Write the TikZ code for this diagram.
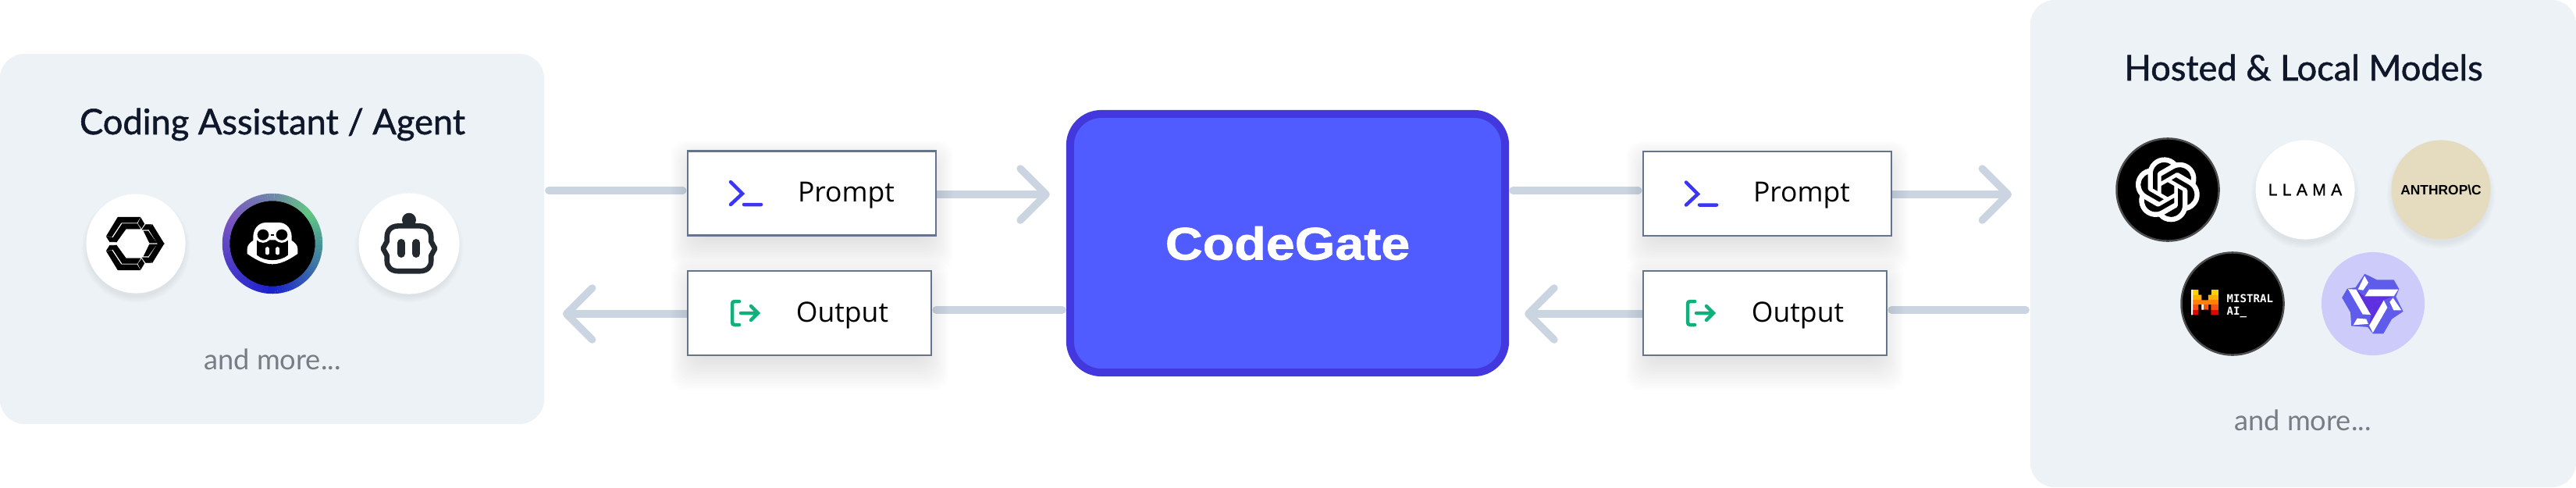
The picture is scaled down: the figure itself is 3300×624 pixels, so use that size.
\documentclass[tikz,border=0pt]{standalone}
\usepackage{fontspec}
\setmainfont{Lato}
\newfontfamily\titlefont[FakeBold=1.2]{Lato}
\newfontfamily\cardfont{Open Sans}
\newfontfamily\gatefont[FakeStretch=1.13,FakeBold=1.2]{Liberation Sans}
\newfontfamily\anthropicfont{Liberation Sans}
\newfontfamily\llamafont[LetterSpace=30,FakeBold=1]{Liberation Sans}
\newfontfamily\mistralfont{DejaVu Sans Mono}
\usetikzlibrary{arrows.meta,backgrounds,svg.path}

\definecolor{panelbg}{HTML}{EDF2F7}
\definecolor{wirecol}{HTML}{CBD5E1}
\definecolor{cardline}{HTML}{64748B}
\definecolor{gatefill}{HTML}{505CFF}
\definecolor{gateline}{HTML}{4338DE}
\definecolor{titlecol}{HTML}{0F172A}
\definecolor{morecol}{HTML}{787D85}
\definecolor{promptcol}{HTML}{3B35F5}
\definecolor{outputcol}{HTML}{10B07C}
\definecolor{robotcol}{HTML}{24292F}
\definecolor{sandcol}{HTML}{E5DBBF}
\definecolor{qwenbg}{HTML}{CCCBFA}
\definecolor{qwenmid}{HTML}{5F5CEC}
\definecolor{qwencore}{HTML}{5F30E0}
\definecolor{ringgreen}{HTML}{60C880}
\definecolor{ringslate}{HTML}{6F86A8}
\definecolor{ringpurple}{HTML}{7A55C0}
\definecolor{ringblue}{HTML}{1A20D0}
\definecolor{ringteal}{HTML}{3A70A8}

\tikzset{
	panel/.style={fill=panelbg,rounded corners=.32cm,inner sep=0pt},
	card/.style={draw=cardline,line width=.025cm,fill=white,minimum height=1.08cm,inner sep=0pt},
	promptcard/.style={card,minimum width=3.175cm},
	outputcard/.style={card,minimum width=3.115cm},
	cardtext/.style={anchor=base,inner sep=0pt,font=\cardfont\fontsize{10.1}{12}\selectfont},
	title/.style={anchor=base,inner sep=0pt,text=titlecol,font=\titlefont\fontsize{12.85}{15}\selectfont},
	more/.style={anchor=base,inner sep=0pt,text=morecol,font=\fontsize{10.3}{12}\selectfont},
	logo/.style={circle,inner sep=0pt,minimum size=1.27cm},
	wire/.style={draw=wirecol,line width=.095cm,line cap=round,shorten <=.05cm,shorten >=.05cm},
	wirehead/.style={draw=wirecol,line width=.095cm,line cap=round,-{Straight Barb[length=.33cm,width=.66cm,round]}},
	glyph/.style={x=.00333cm,y=-.00333cm}
}
\newcommand{\cardshadow}[4]{
	\foreach \i in {1,...,16}
		\fill[black,opacity=.0065,rounded corners=.2cm] ({#1+14-\i*2.2},{#2+20-\i*2}) rectangle ({#3-14+\i*2.2},{#4-4+\i*3});
}
\newcommand{\logoshadow}[2]{
	\foreach \i in {1,...,8}
		\fill[black,opacity=.008] (#1,#2+6) circle[radius=61+\i*1.1];
}

\begin{document}
\begin{tikzpicture}[x=.01cm,y=-.01cm]
	\useasboundingbox (0,0) rectangle (3300,624);

	\node[panel,minimum width=6.97cm,minimum height=4.74cm] (assistant) at (348.5,306) {};
	\node[panel,minimum width=6.99cm,minimum height=6.24cm] (models) at (2950.5,312) {};
	\node[title] (assistanttitle) at (349,172) {Coding Assistant / Agent};
	\node[title] (modelstitle) at (2951,103) {Hosted \& Local Models};
	\node[more] (assistantmore) at (349,473) {and more...};
	\node[more] (modelsmore) at (2950,551) {and more...};

	\node[draw=gateline,fill=gatefill,line width=.1cm,rounded corners=.4cm,minimum width=5.57cm,minimum height=3.31cm,inner sep=0pt,text=white,font=\gatefont\bfseries\fontsize{16.7}{20}\selectfont] (codegate) at (1649.5,311.5) {CodeGate};

	\cardshadow{880}{192}{1200}{303}
	\cardshadow{880}{346}{1194}{456}
	\cardshadow{2104}{193}{2424}{303}
	\cardshadow{2104}{346}{2418}{456}
	\node[promptcard] (promptl) at (1040,247.5) {};
	\node[outputcard] (outputl) at (1037,401) {};
	\node[promptcard] (promptr) at (2264,248) {};
	\node[outputcard] (outputr) at (2261,401) {};
	\node[cardtext] (promptltext) at (1084,258) {Prompt};
	\node[cardtext] (outputltext) at (1079,412) {Output};
	\node[cardtext] (promptrtext) at (2308,258) {Prompt};
	\node[cardtext] (outputrtext) at (2303,412) {Output};

	\foreach \n in {promptl,promptr}
		\draw[promptcol,line width=.045cm,line cap=round,shift={(\n.center)}] (-104,-14.5)--(-89,0.5)--(-104,14.5) (-87,14.5)--(-65,14.5);
	\foreach \n in {outputl,outputr}
		\draw[outputcol,line width=.045cm,line cap=round,shift={(\n.center)}] (-90,-15)[rounded corners=.03cm]--(-99,-15)--(-99,15)--(-90,15) [sharp corners](-88,0)--(-67,0) (-75,-9)--(-66,0)--(-75,9);

	\begin{scope}[on background layer]
		\coordinate (pal) at ([yshift=.035cm]promptl.west);
		\coordinate (pbl) at ([yshift=-.015cm]promptl.east);
		\coordinate (oal) at ([yshift=.04cm]outputl.east);
		\coordinate (obl) at ([yshift=-.01cm]outputl.west);
		\coordinate (par) at ([yshift=.04cm]promptr.west);
		\coordinate (pbr) at ([yshift=-.01cm]promptr.east);
		\coordinate (oar) at ([yshift=.04cm]outputr.east);
		\coordinate (obr) at ([yshift=-.01cm]outputr.west);
		\draw[wire] (assistant.east |- pal) -- (pal);
		\draw[wirehead,shorten >=.21cm] (pbl) -- (codegate.west |- pbl);
		\draw[wire] (codegate.west |- oal) -- (oal);
		\draw[wirehead,shorten >=.23cm] (obl) -- (assistant.east |- obl);
		\draw[wire] (codegate.east |- par) -- (par);
		\draw[wirehead,shorten >=.23cm] (pbr) -- (models.west |- pbr);
		\draw[wire] (models.west |- oar) -- (oar);
		\draw[wirehead,shorten >=.2cm] (obr) -- (codegate.east |- obr);
	\end{scope}

	% left logos
	\logoshadow{174}{312}
	\logoshadow{524}{312}
	\node[logo,fill=white] (continue) at (174,312) {};
	\node[logo,fill=black,minimum size=1.1cm] (copilot) at (349,312) {};
	\node[logo,fill=white,minimum size=1.29cm] (robot) at (524,312) {};

	\foreach \s in {1,-1} {
		\begin{scope}[shift={(continue.center)},glyph,yscale=\s]
			\filldraw[black,line width=.008cm] (-112,-30)--(-69,-101)--(16,-101)--(4,-81)--(-57,-81)--(-92,-28)--cycle
				(-49,-76)--(5,-76)--(17,-57)--(-37,-57)--cycle
				(19,-98)--(32,-76)--(22,-60)--(9,-78)--cycle
				(25,-54)--(38,-73)--(58,-73)--(46,-54)--cycle
				(63,-73)--(108,0)--(85,0)--(50,-55)--cycle
				(31,-48)--(47,-48)--(79,-3)--(53,-3)--cycle
				(-52,-76)--(-39,-56)--(-75,-6)--(-87,-23)--cycle
				(-112,-26)--(-92,-24)--(-80,-7)--(-100,-7)--cycle;
		\end{scope}
	}

	\foreach \from/\to/\ca/\cb in {-40/-90/ringgreen/ringslate,-90/-150/ringslate/ringpurple,-150/-270/ringpurple/ringblue,-270/-330/ringblue/ringteal,-330/-400/ringteal/ringgreen}
		\foreach \t in {0,...,19} {
			\pgfmathsetmacro{\p}{\t*5+2.5}
			\pgfmathsetmacro{\st}{\from+(\to-\from)*\t/20}
			\pgfmathsetmacro{\en}{\from+(\to-\from)*(\t+1.1)/20}
			\draw[line width=.095cm,\cb!\p!\ca] (copilot.center) ++(\st:59.5) arc[start angle=\st,end angle=\en,radius=59.5];
		}

	\begin{scope}[shift={(copilot.center)},glyph]
		\fill[white] (-97,39) -- (-97,20) .. controls (-97,5) and (-85,-5) .. (-74,-12) .. controls (-78,-55) and (-55,-81) .. (-25,-81) -- (25,-81) .. controls (55,-81) and (78,-55) .. (74,-12) .. controls (85,-5) and (97,5) .. (97,20) -- (97,39) .. controls (60,65) and (30,79) .. (0,79) .. controls (-30,79) and (-60,65) .. (-97,39) -- cycle;
		\fill[black] (-60,-14) -- (60,-14) -- (60,44) .. controls (30,70) and (-30,70) .. (-60,44) -- cycle;
		\draw[white,fill=black,line width=.03cm] (-36,-34) ellipse[x radius=27,y radius=26] (36,-34) ellipse[x radius=27,y radius=26];
		\fill[black] (-6,-37) rectangle (6,-31);
		\draw[white,line width=.05cm,line cap=round] (-20,20)--(-20,36) (20,20)--(20,36);
	\end{scope}

	\begin{scope}[shift={(robot.center)},glyph]
		\fill[robotcol] (0,-91) circle[radius=27];
		\draw[robotcol,line width=.066cm,line join=round] (-40,-68) -- (40,-68) .. controls (70,-68) and (85,-50) .. (85,-25) -- (85,-8) -- (100,19) -- (85,46) -- (85,65) .. controls (85,90) and (70,106) .. (40,106) -- (-40,106) .. controls (-70,106) and (-85,90) .. (-85,65) -- (-85,46) -- (-100,19) -- (-85,-8) -- (-85,-25) .. controls (-85,-50) and (-70,-68) .. (-40,-68) -- cycle;
		\draw[robotcol,line width=.1cm,line cap=round] (-30,-3)--(-30,39) (28,-3)--(28,39);
	\end{scope}

	% right logos
	\logoshadow{2953}{243}
	\logoshadow{3127}{243}
	\node[logo,fill=black,draw=black!70,line width=.025cm,minimum size=1.31cm] (openai) at (2777,243) {};
	\node[logo,fill=white,font=\llamafont\fontsize{6}{7}\selectfont] (llama) at (2953,243) {LLAMA};
	\node[logo,fill=sandcol,font=\anthropicfont\bfseries\fontsize{4.95}{6}\selectfont] (anthropic) at (3127,243) {ANTHROP\textbackslash C};
	\node[logo,fill=black,draw=black!70,line width=.025cm,minimum size=1.31cm] (mistral) at (2860,389) {};
	\node[logo,fill=qwenbg,minimum size=1.32cm] (qwen) at (3040,389) {};

	\begin{scope}[shift={(openai.center)},xscale=.97,yscale=-.97,shift={(-12bp,-12bp)}]
		\filldraw[white,line width=.01cm,even odd rule] svg {M 22.2819 9.8211 a 5.9847 5.9847 0 0 0 -0.5157 -4.9108 a 6.0462 6.0462 0 0 0 -6.5098 -2.9 A 6.0651 6.0651 0 0 0 4.9807 4.1818 a 5.9847 5.9847 0 0 0 -3.9977 2.9 a 6.0462 6.0462 0 0 0 0.7427 7.0966 a 5.98 5.98 0 0 0 0.511 4.9107 a 6.051 6.051 0 0 0 6.5146 2.9001 A 5.9847 5.9847 0 0 0 13.2599 24 a 6.0557 6.0557 0 0 0 5.7718 -4.2058 a 5.9894 5.9894 0 0 0 3.9977 -2.9001 a 6.0557 6.0557 0 0 0 -0.7475 -7.0729 z
		M 13.2599 22.4292 a 4.4755 4.4755 0 0 1 -2.8764 -1.0408 l 0.1419 -0.0804 l 4.7783 -2.7582 a 0.7948 0.7948 0 0 0 0.3927 -0.6813 v -6.7369 l 2.02 1.1686 l 0.038 0.052 v 5.5826 a 4.504 4.504 0 0 1 -4.4945 4.4944 z
		M 3.5992 18.3038 a 4.4708 4.4708 0 0 1 -0.5346 -3.0137 l 0.142 0.0852 l 4.783 2.7582 a 0.7712 0.7712 0 0 0 0.7806 0 l 5.8428 -3.3685 v 2.3324 l -0.0332 0.0615 L 9.74 19.9502 a 4.4992 4.4992 0 0 1 -6.1408 -1.6464 z
		M 2.3408 7.8956 a 4.485 4.485 0 0 1 2.3655 -1.9728 V 11.6 a 0.7664 0.7664 0 0 0 0.3879 0.6765 l 5.8144 3.3543 l -2.0201 1.1685 l -0.071 0 l -4.8303 -2.7865 A 4.504 4.504 0 0 1 2.3408 7.872 z
		M 18.9371 11.7514 L 13.1038 8.364 L 15.1192 7.2 l 0.071 0 l 4.8303 2.7913 a 4.4944 4.4944 0 0 1 -0.6765 8.1042 v -5.6772 a 0.79 0.79 0 0 0 -0.407 -0.667 z
		M 20.9478 8.7283 l -0.142 -0.0852 l -4.7735 -2.7818 a 0.7759 0.7759 0 0 0 -0.7854 0 L 9.409 9.2297 V 6.8974 l 0.0284 -0.0615 l 4.8303 -2.7866 a 4.4992 4.4992 0 0 1 6.6802 4.66 z
		M 8.3065 12.863 l -2.02 -1.1638 l -0.038 -0.0567 V 6.0742 a 4.4992 4.4992 0 0 1 7.3757 -3.4537 l -0.142 0.0805 L 8.704 5.459 a 0.7948 0.7948 0 0 0 -0.3927 0.6813 z
		M 9.4041 10.4976 l 2.602 -1.4998 l 2.6069 1.4998 v 2.9994 l -2.5974 1.4997 l -2.6067 -1.4997 z};
	\end{scope}

	\begin{scope}[shift={(2807,371)},x=.00333cm,y=-.00333cm,xshift=-.1733cm,yshift=.16cm]
		\clip (52,48)--(80,48)--(80,68)--(92,68)--(92,88)--(118,88)--(118,68)--(130,68)--(130,48)--(157,48)--(157,145)--(128,145)--(128,105)--(118,105)--(118,125)--(92,125)--(92,105)--(80,105)--(80,145)--(52,145)--cycle;
		\foreach \ya/\yb/\c in {48/68/FFD000,68/88/FFAF00,88/105/FF8205,105/125/FA500F,125/145/E10500} {
			\definecolor{rowcol}{HTML}{\c}
			\fill[rowcol] (52,\ya) rectangle (157,\yb);
		}
		\fill[white] (52,48) rectangle (58,145) (118,105) rectangle (126,145) (92,105) rectangle (100,125);
	\end{scope}
	\node[anchor=base west,inner sep=0pt,text=white,font=\mistralfont\bfseries\fontsize{4}{5}\selectfont] (mistralname) at (2852,387) {MISTRAL};
	\node[anchor=base west,inner sep=0pt,text=white,font=\mistralfont\bfseries\fontsize{4}{5}\selectfont] (mistralai) at (2852,403) {AI\_};

	\foreach \r in {0,120,240} {
		\fill[qwenmid,shift={(qwen.center)},glyph,rotate=\r] (0,0)--(-32,-115)--(15,-92)--(80,-92)--(100,-57)--(88,-27)--(116,30)--cycle;
	}
	\foreach \r in {0,120,240} {
		\begin{scope}[shift={(qwen.center)},glyph,rotate=\r]
			\fill[qwencore] (0,0)--(-32,-29)--(80,-29)--cycle;
			\fill[white] (-15,-55)--(97,-55)--(80,-29)--(-32,-29)--cycle;
			\fill[white] (-33,-107)--(-18,-81)--(-38,-52)--(-58,-55)--cycle;
		\end{scope}
	}
\end{tikzpicture}
\end{document}
